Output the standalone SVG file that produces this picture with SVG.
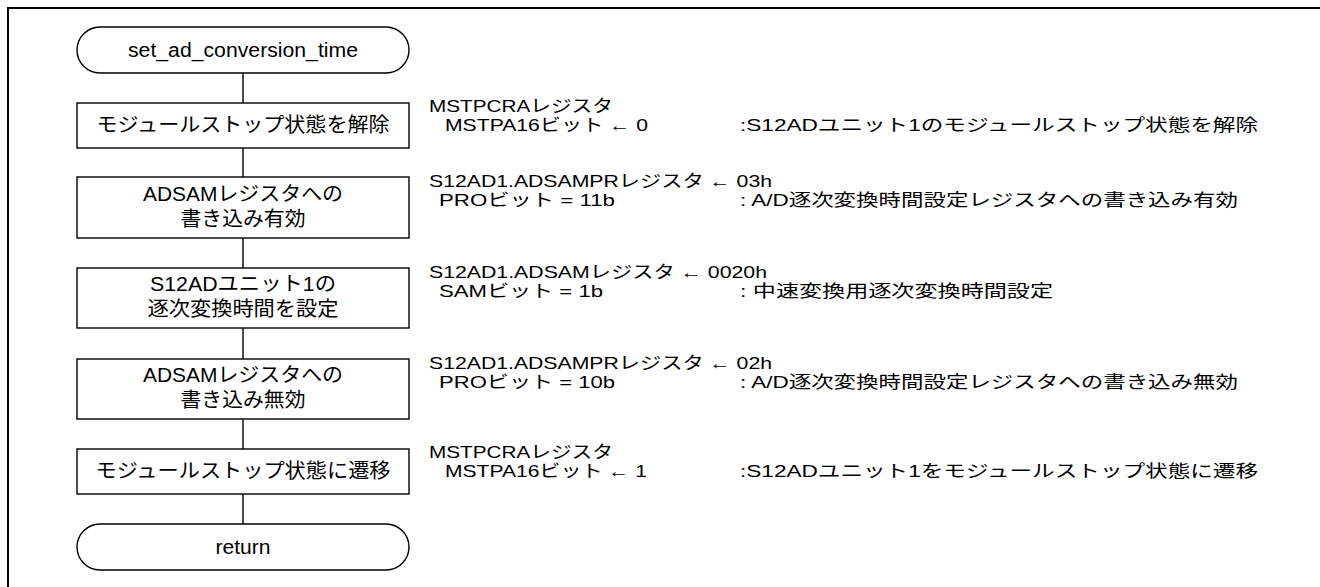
<svg xmlns="http://www.w3.org/2000/svg" width="1320" height="587" viewBox="0 0 1320 587">
<style>
text{font-family:"Liberation Sans","Noto Sans CJK JP",sans-serif;fill:#000}
.lb{font-size:20px;text-anchor:middle}
.rt{font-size:17px}
.shape{fill:#fff;stroke:#000;stroke-width:1.4}
.conn line{stroke:#000;stroke-width:1.4}
</style>
<rect width="1320" height="587" fill="#fff"/>
<path d="M8,590 V8 H1330" fill="none" stroke="#000" stroke-width="2"/>
<g class="conn" id="connectors">
<line x1="243" y1="73" x2="243" y2="103"/>
<line x1="243" y1="148" x2="243" y2="177"/>
<line x1="243" y1="238" x2="243" y2="268"/>
<line x1="243" y1="328" x2="243" y2="359"/>
<line x1="243" y1="419" x2="243" y2="449"/>
<line x1="243" y1="494" x2="243" y2="524"/>
</g>
<g id="start">
<rect class="shape" x="77" y="27" width="332" height="46" rx="23"/>
<text class="lb" x="243" y="57" textLength="230" lengthAdjust="spacingAndGlyphs">set_ad_conversion_time</text>
</g>
<g id="step1">
<rect class="shape" x="77" y="103" width="332" height="45"/>
<text class="lb" x="243" y="132" textLength="293" lengthAdjust="spacingAndGlyphs">モジュールストップ状態を解除</text>
</g>
<g id="step2">
<rect class="shape" x="77" y="177" width="332" height="61"/>
<text class="lb" x="243" y="201" textLength="200" lengthAdjust="spacingAndGlyphs">ADSAMレジスタへの</text>
<text class="lb" x="243" y="226" textLength="125" lengthAdjust="spacingAndGlyphs">書き込み有効</text>
</g>
<g id="step3">
<rect class="shape" x="77" y="268" width="332" height="60"/>
<text class="lb" x="243" y="291" textLength="186" lengthAdjust="spacingAndGlyphs">S12ADユニット1の</text>
<text class="lb" x="243" y="316" textLength="191" lengthAdjust="spacingAndGlyphs">逐次変換時間を設定</text>
</g>
<g id="step4">
<rect class="shape" x="77" y="359" width="332" height="60"/>
<text class="lb" x="243" y="382" textLength="200" lengthAdjust="spacingAndGlyphs">ADSAMレジスタへの</text>
<text class="lb" x="243" y="407" textLength="125" lengthAdjust="spacingAndGlyphs">書き込み無効</text>
</g>
<g id="step5">
<rect class="shape" x="77" y="449" width="332" height="45"/>
<text class="lb" x="243" y="478" textLength="295" lengthAdjust="spacingAndGlyphs">モジュールストップ状態に遷移</text>
</g>
<g id="end">
<rect class="shape" x="77" y="524" width="332" height="46" rx="23"/>
<text class="lb" x="243" y="554" textLength="55" lengthAdjust="spacingAndGlyphs">return</text>
</g>
<g id="notes">
<text class="rt" x="429" y="112" textLength="184" lengthAdjust="spacingAndGlyphs">MSTPCRAレジスタ</text>
<text class="rt" x="445" y="131" textLength="203" lengthAdjust="spacingAndGlyphs">MSTPA16ビット ← 0</text>
<text class="rt" x="740" y="131" textLength="518" lengthAdjust="spacingAndGlyphs">:S12ADユニット1のモジュールストップ状態を解除</text>
<text class="rt" x="429" y="187" textLength="343" lengthAdjust="spacingAndGlyphs">S12AD1.ADSAMPRレジスタ ← 03h</text>
<text class="rt" x="439" y="206" textLength="176" lengthAdjust="spacingAndGlyphs">PROビット = 11b</text>
<text class="rt" x="740" y="206" textLength="498" lengthAdjust="spacingAndGlyphs">: A/D逐次変換時間設定レジスタへの書き込み有効</text>
<text class="rt" x="429" y="278" textLength="338" lengthAdjust="spacingAndGlyphs">S12AD1.ADSAMレジスタ ← 0020h</text>
<text class="rt" x="439" y="297" textLength="164" lengthAdjust="spacingAndGlyphs">SAMビット = 1b</text>
<text class="rt" x="740" y="297" textLength="313" lengthAdjust="spacingAndGlyphs">: 中速変換用逐次変換時間設定</text>
<text class="rt" x="429" y="369" textLength="343" lengthAdjust="spacingAndGlyphs">S12AD1.ADSAMPRレジスタ ← 02h</text>
<text class="rt" x="439" y="388" textLength="176" lengthAdjust="spacingAndGlyphs">PROビット = 10b</text>
<text class="rt" x="740" y="388" textLength="498" lengthAdjust="spacingAndGlyphs">: A/D逐次変換時間設定レジスタへの書き込み無効</text>
<text class="rt" x="429" y="458" textLength="184" lengthAdjust="spacingAndGlyphs">MSTPCRAレジスタ</text>
<text class="rt" x="445" y="477" textLength="202" lengthAdjust="spacingAndGlyphs">MSTPA16ビット ← 1</text>
<text class="rt" x="740" y="477" textLength="518" lengthAdjust="spacingAndGlyphs">:S12ADユニット1をモジュールストップ状態に遷移</text>
</g>
</svg>
